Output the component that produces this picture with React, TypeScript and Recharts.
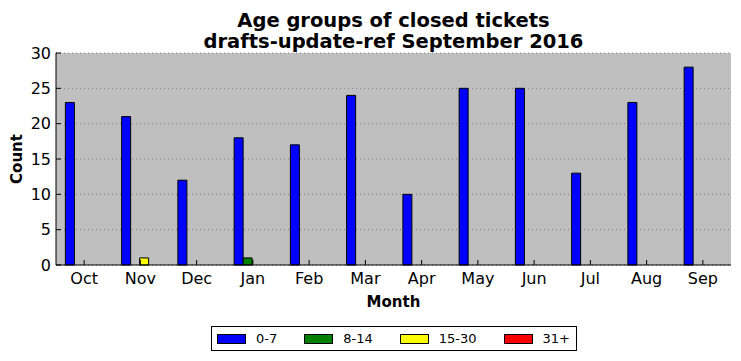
import React from "react";
import {
  BarChart,
  Bar,
  XAxis,
  YAxis,
  CartesianGrid,
} from "recharts";

const months = ["Oct", "Nov", "Dec", "Jan", "Feb", "Mar", "Apr", "May", "Jun", "Jul", "Aug", "Sep"];
const age0to7 = [23, 21, 12, 18, 17, 24, 10, 25, 25, 13, 23, 28];
const age8to14 = [0, 0, 0, 1, 0, 0, 0, 0, 0, 0, 0, 0];
const age15to30 = [0, 1, 0, 0, 0, 0, 0, 0, 0, 0, 0, 0];
const age31plus = [0, 0, 0, 0, 0, 0, 0, 0, 0, 0, 0, 0];
const yTicks = [0, 5, 10, 15, 20, 25, 30];

const series = [
  { key: "g0", name: "0-7", color: "#0000ff", values: age0to7 },
  { key: "g1", name: "8-14", color: "#008000", values: age8to14 },
  { key: "g2", name: "15-30", color: "#ffff00", values: age15to30 },
  { key: "g3", name: "31+", color: "#ff0000", values: age31plus },
];

const data = months.map((month, i) => {
  const row: Record<string, string | number> = { month };
  series.forEach((s) => {
    row[s.key] = s.values[i];
  });
  return row;
});

const FONT = "'DejaVu Sans', sans-serif";
const blank = () => "";

export default function App() {
  return (
    <div
      style={{
        position: "absolute",
        left: 0,
        top: 0,
        width: 741,
        height: 361,
        background: "#fff",
        fontFamily: FONT,
        color: "#000",
      }}
    >
      <div
        style={{
          position: "absolute",
          left: 56,
          width: 675,
          top: 10,
          textAlign: "center",
          fontWeight: "bold",
          fontSize: 19.5,
          lineHeight: "21px",
        }}
      >
        Age groups of closed tickets
        <br />
        drafts-update-ref September 2016
      </div>

      <BarChart
        width={741}
        height={361}
        data={data}
        margin={{ top: 53, right: 10, bottom: 0, left: 0 }}
        barCategoryGap="16.67%"
        barGap={0}
        style={{ position: "absolute", left: 0, top: 0 }}
      >
        <CartesianGrid
          vertical={false}
          fill="#bfbfbf"
          fillOpacity={1}
          stroke="#7f7f7f"
          strokeDasharray="1 3"
        />
        <XAxis
          dataKey="month"
          height={96}
          tickSize={-5}
          tickMargin={13}
          stroke="#000"
          tick={{ fill: "#000", fontSize: 16, fontFamily: FONT }}
          tickLine={{ stroke: "#000" }}
          axisLine={{ stroke: "#000" }}
          interval={0}
        />
        <XAxis
          xAxisId="top"
          dataKey="month"
          orientation="top"
          height={0}
          tickSize={-5}
          tickFormatter={blank}
          stroke="#000"
          tickLine={{ stroke: "#000" }}
          axisLine={{ stroke: "#000" }}
          interval={0}
        />
        <YAxis
          width={56}
          domain={[0, 30]}
          ticks={yTicks}
          tickSize={-5}
          tickMargin={10}
          stroke="#000"
          tick={{ fill: "#000", fontSize: 16, fontFamily: FONT }}
          tickLine={{ stroke: "#000" }}
          axisLine={{ stroke: "#000" }}
          interval={0}
        />
        <YAxis
          yAxisId="right"
          orientation="right"
          width={0}
          domain={[0, 30]}
          ticks={yTicks}
          tickSize={-5}
          tickFormatter={blank}
          stroke="#000"
          tickLine={{ stroke: "#000" }}
          axisLine={{ stroke: "#000" }}
          interval={0}
        />
        {series.map((s) => (
          <Bar
            key={s.key}
            dataKey={s.key}
            name={s.name}
            fill={s.color}
            stroke="#000"
            strokeWidth={1}
            isAnimationActive={false}
          />
        ))}
      </BarChart>

      <div
        style={{
          position: "absolute",
          left: 17,
          top: 159,
          transform: "translate(-50%, -50%) rotate(-90deg)",
          fontWeight: "bold",
          fontSize: 15,
          lineHeight: "15px",
        }}
      >
        Count
      </div>
      <div
        style={{
          position: "absolute",
          left: 56,
          width: 675,
          top: 295,
          textAlign: "center",
          fontWeight: "bold",
          fontSize: 15,
          lineHeight: "15px",
        }}
      >
        Month
      </div>

      <div
        style={{
          position: "absolute",
          left: 211,
          top: 326,
          width: 366,
          height: 25,
          border: "1px solid #000",
          display: "flex",
          alignItems: "center",
          boxSizing: "border-box",
          paddingLeft: 5,
          fontSize: 13,
          whiteSpace: "nowrap",
        }}
      >
        {series.map((s) => (
          <div
            key={s.key}
            style={{
              display: "flex",
              alignItems: "center",
              marginRight: 27,
              flexShrink: 0,
            }}
          >
            <span
              style={{
                display: "inline-block",
                width: 29,
                height: 10,
                background: s.color,
                border: "1px solid #000",
                boxSizing: "border-box",
                marginRight: 10,
                flexShrink: 0,
              }}
            />
            <span>{s.name}</span>
          </div>
        ))}
      </div>
    </div>
  );
}
